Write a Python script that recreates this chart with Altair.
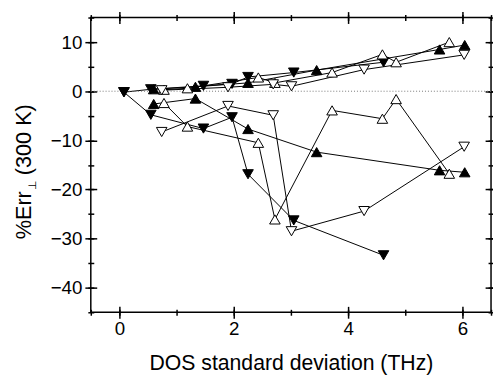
import altair as alt
import pandas as pd

# ---- data ----
x_fd = [0.08, 0.55, 1.47, 1.97, 2.25, 3.05, 4.62]          # filled down-triangles
y_fd_pos = [-0.2, 0.4, 1.1, 1.5, 2.9, 3.8, 5.9]
y_fd_neg = [-0.2, -4.8, -7.6, -5.3, -16.9, -26.3, -33.4]

x_fu = [0.60, 1.33, 2.25, 3.45, 5.60, 6.04]                # filled up-triangles
y_fu_pos = [0.4, 0.9, 1.7, 4.3, 8.5, 9.4]
y_fu_neg = [-2.6, -1.5, -7.7, -12.4, -16.1, -16.5]

x_ou = [0.78, 1.19, 2.43, 2.72, 3.72, 4.60, 4.84, 5.77]    # open up-triangles
y_ou_pos = [0.3, 0.6, 2.8, 1.7, 3.8, 7.5, 5.9, 10.0]
y_ou_neg = [-2.4, -7.2, -10.5, -26.1, -3.9, -5.6, -1.6, -16.8]

x_od = [0.74, 1.90, 2.69, 3.01, 4.28, 6.03]                # open down-triangles
y_od_pos = [0.2, 0.8, 1.4, 1.0, 4.4, 7.4]
y_od_neg = [-8.3, -3.0, -4.9, -28.5, -24.4, -11.3]

x_major = [0, 2, 4, 6]
x_minor = [-0.5, 0, 1, 2, 3, 4, 5, 6, 6.5]
y_major = [-40, -30, -20, -10, 0, 10]
y_minor = [-45, -40, -35, -30, -25, -20, -15, -10, -5, 0, 5, 10, 15]

series = [
    ("fd_pos", x_fd, y_fd_pos, "triangle-down", "filled"),
    ("fd_neg", x_fd, y_fd_neg, "triangle-down", "filled"),
    ("fu_pos", x_fu, y_fu_pos, "triangle-up", "filled"),
    ("fu_neg", x_fu, y_fu_neg, "triangle-up", "filled"),
    ("ou_pos", x_ou, y_ou_pos, "triangle-up", "open"),
    ("ou_neg", x_ou, y_ou_neg, "triangle-up", "open"),
    ("od_pos", x_od, y_od_pos, "triangle-down", "open"),
    ("od_neg", x_od, y_od_neg, "triangle-down", "open"),
]
rows = []
for name, xs, ys, shp, fill in series:
    for i, (xv, yv) in enumerate(zip(xs, ys)):
        rows.append({"series": name, "i": i, "x": xv, "y": yv, "shape": shp, "fill": fill})
df = pd.DataFrame(rows)

FONT = "Liberation Sans"
XS = alt.Scale(domain=[-0.5, 6.5], nice=False, zero=False)
YS = alt.Scale(domain=[-45, 15], nice=False, zero=False)


def tick_axis(orient, values, major):
    return alt.Axis(orient=orient, values=values, domain=False, grid=False,
                    tickSize=12 if major else 6, offset=-6 if major else -3,
                    tickWidth=1.5, tickColor="black", labels=False, title=None)


def label_axis(orient, values, pad, title=None):
    kw = dict(orient=orient, values=values, domain=False, grid=False, ticks=False,
              labels=True, labelFont=FONT, labelFontSize=19, labelColor="black",
              labelPadding=pad, format="d")
    if orient == "left":
        kw.update(labelAlign="right", labelBaseline="middle")
    if title:
        kw.update(title=title, titleFont=FONT, titleFontSize=21.5, titleFontWeight="normal",
                  titleColor="black", titlePadding=14)
    else:
        kw.update(title=None)
    return alt.Axis(**kw)


base = alt.Chart(df)

lines = base.mark_line(color="black", strokeWidth=1).encode(
    x=alt.X("x:Q", scale=XS, axis=label_axis("bottom", x_major, 8,
                                              title="DOS standard deviation (THz)")),
    y=alt.Y("y:Q", scale=YS, axis=label_axis("left", y_major, 9)),
    detail="series:N",
    order="i:Q",
)

major1 = base.mark_point(opacity=0).encode(
    x=alt.X("x:Q", scale=XS, axis=tick_axis("bottom", x_major, True)),
    y=alt.Y("y:Q", scale=YS, axis=tick_axis("left", y_major, True)),
)
minor1 = base.mark_point(opacity=0).encode(
    x=alt.X("x:Q", scale=XS, axis=tick_axis("bottom", x_minor, False)),
    y=alt.Y("y:Q", scale=YS, axis=tick_axis("left", y_minor, False)),
)
major2 = base.mark_point(opacity=0).encode(
    x=alt.X("x:Q", scale=XS, axis=tick_axis("top", x_major, True)),
    y=alt.Y("y:Q", scale=YS, axis=tick_axis("right", y_major, True)),
)
minor2 = base.mark_point(opacity=0).encode(
    x=alt.X("x:Q", scale=XS, axis=tick_axis("top", x_minor, False)),
    y=alt.Y("y:Q", scale=YS, axis=tick_axis("right", y_minor, False)),
)

zero = alt.Chart(pd.DataFrame({"z": [0]})).mark_rule(
    color="#777777", strokeWidth=1, strokeDash=[1, 2]
).encode(y=alt.Y("z:Q", scale=YS, axis=None))

pts = base.mark_point(size=115, strokeWidth=1, opacity=1).encode(
    x=alt.X("x:Q", scale=XS, axis=None),
    y=alt.Y("y:Q", scale=YS, axis=None),
    shape=alt.Shape("shape:N", scale=alt.Scale(domain=["triangle-up", "triangle-down"],
                                                range=["triangle-up", "triangle-down"]),
                    legend=None),
    fill=alt.Fill("fill:N", scale=alt.Scale(domain=["filled", "open"], range=["black", "white"]),
                  legend=None),
    stroke=alt.value("black"),
)

one = pd.DataFrame({"k": [0]})
t1 = alt.Chart(one).mark_text(angle=270, align="left", baseline="alphabetic", font=FONT,
                              fontSize=22, color="black").encode(
    x=alt.value(-61), y=alt.value(225), text=alt.value("%Err"))
t2 = alt.Chart(one).mark_text(angle=270, align="left", baseline="alphabetic", font="DejaVu Sans",
                              fontSize=11, color="black").encode(
    x=alt.value(-56), y=alt.value(175), text=alt.value("\u22a5"))
t3 = alt.Chart(one).mark_text(angle=270, align="left", baseline="alphabetic", font=FONT,
                              fontSize=22, color="black").encode(
    x=alt.value(-61), y=alt.value(160), text=alt.value("(300 K)"))

chart = alt.layer(lines, major1, minor1, major2, minor2, zero, pts, t1, t2, t3).resolve_axis(
    x="independent", y="independent"
).properties(
    width=406, height=299,
    autosize=alt.AutoSizeParams(type="none"),
    padding={"left": 84, "top": 7, "right": 2, "bottom": 64},
    background="white",
).configure_view(stroke="black", strokeWidth=1.5)

chart.save("out.html", embed_options={"renderer": "svg", "actions": False})
